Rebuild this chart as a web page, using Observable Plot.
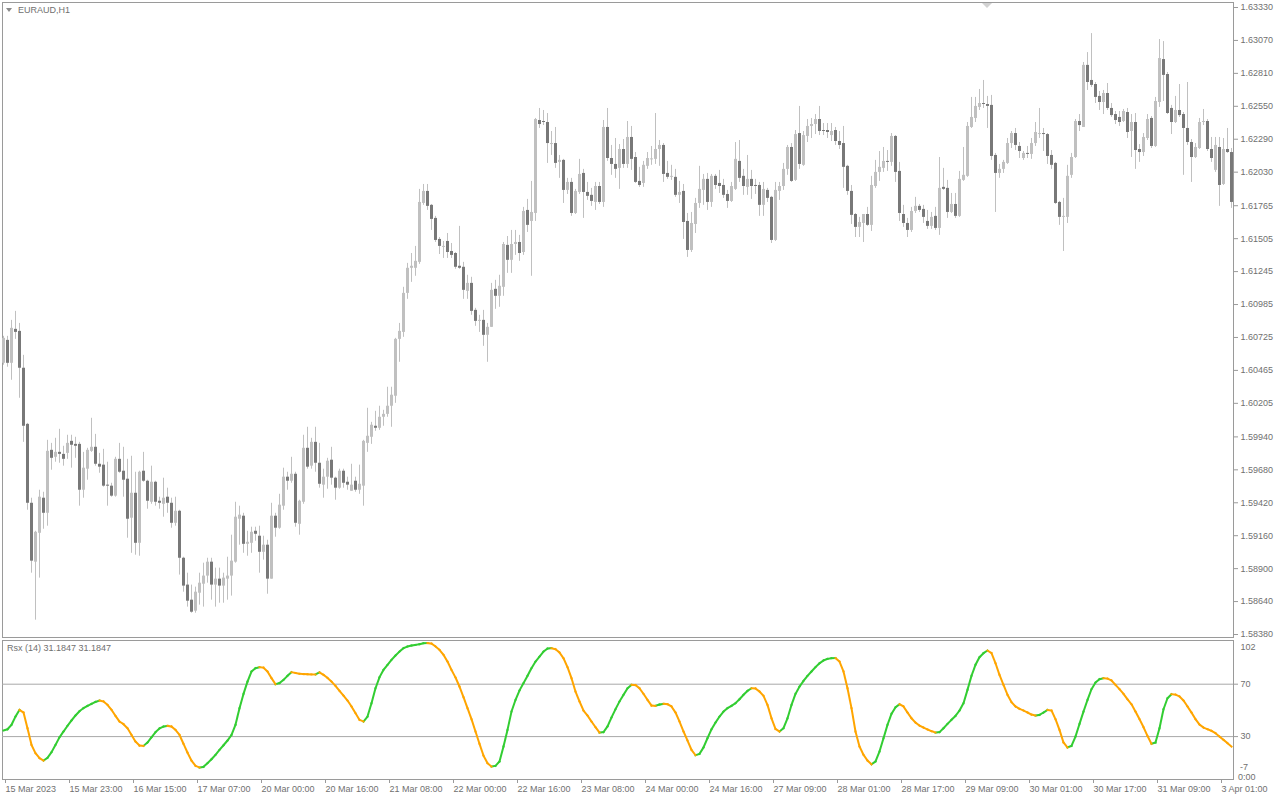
<!DOCTYPE html>
<html><head><meta charset="utf-8">
<script src="https://cdn.jsdelivr.net/npm/d3@7"></script>
<script src="https://cdn.jsdelivr.net/npm/@observablehq/plot@0.6"></script>
<style>
html,body{margin:0;padding:0;background:#fff;}
#wrap{position:relative;width:1280px;height:800px;overflow:hidden;font-family:"Liberation Sans",Arial,sans-serif;}
#main{position:absolute;left:0;top:0;}
#ind{position:absolute;left:0;top:638px;}
.lbl{position:absolute;font-size:9px;color:#707070;white-space:nowrap;line-height:10px;}
.tri{position:absolute;width:0;height:0;border-left:3px solid transparent;border-right:3px solid transparent;}
</style></head><body>
<div id="wrap">
  <div id="main"></div>
  <div id="ind"></div>
  <div class="tri" style="left:6px;top:8px;border-top:4px solid #8a8a8a"></div>
  <div class="lbl" style="left:18px;top:5px">EURAUD,H1</div>
  <div class="tri" style="left:982px;top:3px;border-left-width:5px;border-right-width:5px;border-top:5px solid #d2d2d2"></div>
  <div class="lbl" style="left:7px;top:643px">Rsx (14) 31.1847 31.1847</div>
  <div class="lbl" style="left:1240px;top:762px">-7</div>
  <div class="lbl" style="left:1238px;top:772px">0:00</div>
</div>
<script>
const open = [
1.60521,1.60702,1.60521,1.60789,1.60773,1.60482,1.60039,1.59416,1.58951,1.59179,
1.59456,1.59337,1.59834,1.59779,1.59818,1.59802,1.59810,1.59905,1.59881,1.59881,
1.59519,1.59685,1.59826,1.59858,1.59724,1.59717,1.59559,1.59551,1.59472,1.59763,
1.59669,1.59606,1.59298,1.59495,1.59100,1.59669,1.59590,1.59424,1.59582,1.59432,
1.59408,1.59464,1.59416,1.59258,1.59353,1.58982,1.58770,1.58651,1.58564,1.58706,
1.58777,1.58841,1.58951,1.58770,1.58817,1.58762,1.58817,1.58841,1.58951,1.59290,
1.59314,1.59092,1.59100,1.59195,1.59156,1.59029,1.59085,1.58817,1.59314,1.59219,
1.59393,1.59622,1.59590,1.59645,1.59250,1.59424,1.59850,1.59709,1.59897,1.59732,
1.59559,1.59622,1.59756,1.59614,1.59535,1.59669,1.59582,1.59511,1.59590,1.59519,
1.59551,1.59889,1.59937,1.60024,1.60008,1.60095,1.60118,1.60182,1.60261,1.60710,
1.60765,1.61073,1.61271,1.61271,1.61318,1.61783,1.61878,1.61768,1.61665,1.61499,
1.61436,1.61483,1.61404,1.61388,1.61287,1.61279,1.61089,1.61152,1.60939,1.60852,
1.60860,1.60742,1.60805,1.61105,1.61050,1.61121,1.61452,1.61334,1.61459,1.61475,
1.61396,1.61728,1.61641,1.61704,1.62438,1.62430,1.62422,1.62248,1.62256,1.62107,
1.62123,1.61886,1.61949,1.61704,1.61870,1.62020,1.61870,1.61847,1.61791,1.61917,
1.61791,1.62383,1.62138,1.62091,1.62060,1.62209,1.62091,1.62304,1.62146,1.61957,
1.61941,1.62076,1.62127,1.62131,1.62209,1.62241,1.62020,1.61989,1.61989,1.61847,
1.61878,1.61641,1.61412,1.61617,1.61783,1.61886,1.61973,1.61791,1.61997,1.61941,
1.61925,1.61854,1.61799,1.61894,1.62115,1.61997,1.61910,1.61973,1.61925,1.61925,
1.61768,1.61886,1.61831,1.61491,1.61878,1.61917,1.62052,1.62225,1.61965,1.62335,
1.62084,1.62312,1.62391,1.62406,1.62446,1.62359,1.62359,1.62319,1.62359,1.62272,
1.62256,1.62076,1.61878,1.61696,1.61594,1.61625,1.61696,1.61610,1.61917,1.62028,
1.62060,1.62115,1.62107,1.62312,1.62036,1.61696,1.61625,1.61570,1.61720,1.61760,
1.61736,1.61641,1.61602,1.61681,1.61586,1.61910,1.61902,1.61712,1.61775,1.61681,
1.61965,1.61997,1.62383,1.62454,1.62541,1.62572,1.62564,1.62557,1.62162,1.62020,
1.62052,1.62099,1.62256,1.62335,1.62233,1.62138,1.62178,1.62170,1.62256,1.62327,
1.62335,1.62327,1.62162,1.62099,1.61791,1.61673,1.61673,1.62005,1.62146,1.62430,
1.62383,1.62873,1.62754,1.62722,1.62628,1.62580,1.62651,1.62533,1.62485,1.62462,
1.62430,1.62501,1.62351,1.62422,1.62209,1.62185,1.62296,1.62454,1.62233,1.62580,
1.62919,1.62801,1.62533,1.62422,1.62517,1.62485,1.62375,1.62264,1.62146,1.62217,
1.62422,1.62430,1.62209,1.62044,1.62225,1.61933,1.62209,1.62185];
const high = [
1.60734,1.60734,1.60860,1.60931,1.60836,1.60584,1.60047,1.59456,1.59195,1.59519,
1.59503,1.59913,1.59889,1.59929,1.60000,1.59866,1.59953,1.59953,1.59937,1.59897,
1.59818,1.59850,1.60087,1.59960,1.59810,1.59842,1.59740,1.59574,1.59779,1.59889,
1.59858,1.59763,1.59787,1.59661,1.59669,1.59818,1.59598,1.59709,1.59590,1.59464,
1.59614,1.59535,1.59456,1.59464,1.59361,1.58990,1.58864,1.58770,1.58754,1.58864,
1.58943,1.58982,1.58982,1.58904,1.58904,1.58864,1.58990,1.59164,1.59424,1.59393,
1.59337,1.59195,1.59227,1.59227,1.59235,1.59156,1.59124,1.59416,1.59337,1.59487,
1.59693,1.59661,1.59779,1.59661,1.59440,1.59953,1.60016,1.59929,1.60016,1.59889,
1.59685,1.59771,1.59858,1.59622,1.59685,1.59685,1.59622,1.59724,1.59622,1.59717,
1.59913,1.60166,1.60055,1.60142,1.60182,1.60150,1.60332,1.60332,1.60718,1.60836,
1.61121,1.61310,1.61388,1.61444,1.61894,1.61933,1.61933,1.61775,1.61681,1.61514,
1.61483,1.61546,1.61467,1.61396,1.61602,1.61318,1.61216,1.61200,1.60955,1.60900,
1.60939,1.60836,1.61152,1.61176,1.61216,1.61475,1.61522,1.61570,1.61570,1.61531,
1.61752,1.61815,1.61957,1.62454,1.62533,1.62517,1.62493,1.62351,1.62383,1.62162,
1.62131,1.61981,1.61981,1.61894,1.62131,1.62052,1.61949,1.61902,1.61949,1.61949,
1.62438,1.62533,1.62241,1.62296,1.62248,1.62288,1.62430,1.62391,1.62185,1.62068,
1.62115,1.62185,1.62233,1.62493,1.62280,1.62256,1.62115,1.62084,1.62052,1.61957,
1.61933,1.61704,1.61712,1.61823,1.62076,1.62012,1.62020,1.62012,1.62012,1.62044,
1.61973,1.61886,1.61949,1.62264,1.62280,1.62052,1.62162,1.62044,1.61973,1.61949,
1.61949,1.61902,1.61839,1.61949,1.61949,1.62099,1.62241,1.62256,1.62359,1.62549,
1.62351,1.62446,1.62454,1.62485,1.62549,1.62414,1.62414,1.62414,1.62383,1.62351,
1.62391,1.62084,1.61925,1.61704,1.61673,1.61696,1.61752,1.61997,1.62123,1.62193,
1.62225,1.62201,1.62335,1.62319,1.62107,1.61768,1.61665,1.61752,1.61831,1.61775,
1.61768,1.61728,1.61712,1.61752,1.62146,1.62060,1.61965,1.61862,1.61862,1.62036,
1.62225,1.62422,1.62620,1.62620,1.62683,1.62754,1.62628,1.62636,1.62178,1.62091,
1.62123,1.62296,1.62351,1.62375,1.62264,1.62193,1.62233,1.62296,1.62422,1.62533,
1.62375,1.62335,1.62201,1.62107,1.61799,1.61823,1.62084,1.62178,1.62446,1.62485,
1.62896,1.62974,1.63124,1.62738,1.62667,1.62675,1.62730,1.62572,1.62509,1.62509,
1.62525,1.62533,1.62485,1.62493,1.62248,1.62335,1.62485,1.62469,1.62620,1.63077,
1.63061,1.62817,1.62557,1.62628,1.62722,1.62501,1.62738,1.62288,1.62256,1.62454,
1.62525,1.62446,1.62304,1.62304,1.62304,1.62296,1.62375,1.62217];
const low = [
1.60506,1.60490,1.60387,1.60710,1.60245,1.59897,1.59361,1.58864,1.58493,1.58825,
1.59211,1.59235,1.59677,1.59740,1.59732,1.59709,1.59763,1.59693,1.59771,1.59393,
1.59456,1.59598,1.59818,1.59709,1.59653,1.59543,1.59393,1.59464,1.59464,1.59653,
1.59464,1.59140,1.59021,1.59006,1.58998,1.59582,1.59369,1.59408,1.59393,1.59369,
1.59306,1.59337,1.59219,1.59235,1.58849,1.58714,1.58596,1.58548,1.58548,1.58612,
1.58596,1.58785,1.58651,1.58596,1.58627,1.58627,1.58651,1.58683,1.58943,1.59085,
1.59021,1.58998,1.59021,1.59116,1.58864,1.58967,1.58698,1.58817,1.59148,1.59211,
1.59361,1.59519,1.59574,1.59227,1.59164,1.59408,1.59685,1.59685,1.59661,1.59535,
1.59456,1.59527,1.59559,1.59440,1.59527,1.59535,1.59519,1.59511,1.59503,1.59487,
1.59393,1.59818,1.59881,1.59984,1.59992,1.60024,1.60095,1.60016,1.60205,1.60529,
1.60726,1.61026,1.61160,1.61208,1.61302,1.61768,1.61728,1.61570,1.61475,1.61380,
1.61349,1.61349,1.61349,1.61263,1.61263,1.61026,1.61026,1.60900,1.60813,1.60765,
1.60655,1.60529,1.60805,1.60947,1.60963,1.61050,1.61231,1.61231,1.61373,1.61326,
1.61373,1.61554,1.61208,1.61641,1.62375,1.62398,1.62099,1.62162,1.62060,1.61981,
1.61783,1.61854,1.61681,1.61696,1.61854,1.61665,1.61807,1.61760,1.61728,1.61775,
1.61752,1.62115,1.62005,1.61981,1.61894,1.62060,1.62060,1.62044,1.61941,1.61910,
1.61910,1.62052,1.62084,1.62091,1.62076,1.61949,1.61973,1.61965,1.61831,1.61783,
1.61499,1.61357,1.61396,1.61546,1.61744,1.61768,1.61728,1.61752,1.61894,1.61862,
1.61823,1.61744,1.61791,1.61886,1.61949,1.61847,1.61847,1.61815,1.61854,1.61681,
1.61681,1.61791,1.61467,1.61483,1.61807,1.61886,1.62005,1.61949,1.61957,1.62052,
1.62076,1.62264,1.62296,1.62327,1.62319,1.62319,1.62296,1.62272,1.62241,1.62209,
1.61902,1.61847,1.61617,1.61514,1.61514,1.61475,1.61602,1.61562,1.61902,1.61957,
1.62028,1.62036,1.62076,1.61949,1.61641,1.61594,1.61514,1.61554,1.61704,1.61712,
1.61625,1.61578,1.61578,1.61570,1.61531,1.61886,1.61665,1.61704,1.61665,1.61673,
1.61957,1.61989,1.62375,1.62422,1.62517,1.62533,1.62375,1.62123,1.61712,1.61981,
1.62020,1.62091,1.62217,1.62201,1.62138,1.62123,1.62138,1.62131,1.62233,1.62296,
1.62193,1.62091,1.62052,1.61775,1.61610,1.61404,1.61625,1.61981,1.62138,1.62351,
1.62383,1.62675,1.62699,1.62572,1.62517,1.62485,1.62517,1.62462,1.62406,1.62391,
1.62422,1.62296,1.62146,1.62052,1.62107,1.62154,1.62280,1.62217,1.62225,1.62541,
1.62588,1.62485,1.62327,1.62414,1.62462,1.62005,1.62241,1.61949,1.62138,1.62209,
1.62398,1.62193,1.62107,1.62028,1.61760,1.61925,1.62178,1.61744];
const close = [
1.60718,1.60521,1.60797,1.60765,1.60482,1.60024,1.59416,1.58959,1.59187,1.59464,
1.59337,1.59826,1.59771,1.59818,1.59802,1.59763,1.59889,1.59874,1.59866,1.59519,
1.59693,1.59834,1.59858,1.59724,1.59701,1.59551,1.59551,1.59472,1.59763,1.59661,
1.59598,1.59290,1.59495,1.59100,1.59661,1.59590,1.59432,1.59582,1.59424,1.59416,
1.59456,1.59416,1.59258,1.59353,1.58982,1.58762,1.58643,1.58556,1.58714,1.58785,
1.58841,1.58951,1.58770,1.58817,1.58762,1.58825,1.58841,1.58959,1.59306,1.59322,
1.59092,1.59108,1.59187,1.59171,1.59029,1.59085,1.58817,1.59314,1.59219,1.59401,
1.59622,1.59590,1.59645,1.59258,1.59432,1.59850,1.59701,1.59897,1.59732,1.59566,
1.59622,1.59748,1.59614,1.59535,1.59669,1.59574,1.59559,1.59559,1.59519,1.59566,
1.59905,1.59945,1.60032,1.60008,1.60095,1.60118,1.60182,1.60269,1.60710,1.60773,
1.61073,1.61271,1.61287,1.61326,1.61791,1.61878,1.61760,1.61657,1.61491,1.61444,
1.61444,1.61396,1.61373,1.61279,1.61271,1.61097,1.61152,1.60931,1.60852,1.60860,
1.60742,1.60805,1.61097,1.61050,1.61129,1.61459,1.61334,1.61459,1.61475,1.61388,
1.61720,1.61610,1.61712,1.62446,1.62406,1.62422,1.62256,1.62256,1.62099,1.62123,
1.61886,1.61949,1.61704,1.61878,1.62012,1.61870,1.61839,1.61799,1.61917,1.61791,
1.62383,1.62138,1.62091,1.62052,1.62209,1.62091,1.62304,1.62131,1.61949,1.61925,
1.62084,1.62138,1.62135,1.62209,1.62241,1.62012,1.61989,1.61997,1.61847,1.61870,
1.61633,1.61412,1.61625,1.61783,1.61894,1.61973,1.61791,1.61997,1.61925,1.61917,
1.61847,1.61799,1.61917,1.62131,1.61981,1.61917,1.61973,1.61917,1.61917,1.61768,
1.61894,1.61823,1.61491,1.61886,1.61917,1.62052,1.62225,1.61957,1.62327,1.62091,
1.62319,1.62391,1.62406,1.62446,1.62351,1.62351,1.62343,1.62351,1.62272,1.62241,
1.62068,1.61878,1.61689,1.61594,1.61633,1.61696,1.61610,1.61925,1.62028,1.62068,
1.62115,1.62107,1.62312,1.62028,1.61704,1.61625,1.61570,1.61720,1.61760,1.61728,
1.61673,1.61602,1.61673,1.61586,1.61902,1.61894,1.61712,1.61775,1.61681,1.61973,
1.62005,1.62391,1.62462,1.62549,1.62572,1.62564,1.62549,1.62154,1.62020,1.62052,
1.62107,1.62256,1.62335,1.62241,1.62193,1.62178,1.62170,1.62256,1.62343,1.62335,
1.62327,1.62154,1.62084,1.61783,1.61673,1.61681,1.61997,1.62146,1.62430,1.62398,
1.62873,1.62738,1.62715,1.62620,1.62580,1.62651,1.62533,1.62477,1.62438,1.62422,
1.62509,1.62343,1.62422,1.62201,1.62185,1.62304,1.62446,1.62233,1.62588,1.62927,
1.62794,1.62493,1.62422,1.62517,1.62477,1.62375,1.62264,1.62146,1.62225,1.62422,
1.62430,1.62209,1.62138,1.62241,1.61925,1.62209,1.62185,1.61791];
const rsx = [
34.6,35.6,39.0,45.3,50.4,48.4,36.4,23.7,17.3,13.5,
11.7,13.8,18.1,23.7,29.5,33.9,38.2,42.3,46.1,49.4,
51.7,53.5,55.0,56.5,57.5,56.8,54.2,50.4,45.8,41.5,
39.5,36.4,31.3,26.2,23.2,22.9,25.5,29.5,33.4,36.2,
37.7,38.2,37.7,35.1,31.3,24.5,17.8,11.7,7.7,6.4,
6.9,9.7,12.7,16.1,19.9,23.4,27.0,31.3,39.0,51.7,
62.6,72.0,79.7,82.2,83.0,82.6,79.7,74.6,70.0,70.9,
73.3,76.4,79.2,78.6,78.0,77.7,77.6,77.5,77.4,79.0,
77.1,74.8,72.0,68.7,64.9,61.3,57.5,53.0,47.9,42.8,
41.5,45.3,55.5,66.9,75.3,80.9,84.8,88.6,91.9,94.9,
97.5,98.8,99.5,100.0,100.5,101.3,101.4,101.0,98.8,96.2,
92.4,87.3,80.9,75.1,68.2,60.1,51.7,43.3,33.9,24.5,
15.5,9.7,7.1,7.7,11.0,22.4,35.1,49.1,58.0,65.2,
70.8,76.4,82.2,87.3,91.1,94.9,97.2,97.5,96.7,94.2,
89.8,83.0,74.6,64.4,56.8,49.9,46.1,41.5,37.2,33.1,
33.4,37.7,44.6,50.9,56.8,61.9,66.9,69.5,69.3,66.9,
62.6,58.0,53.7,53.5,54.5,55.0,54.7,53.0,48.4,41.5,
33.9,27.0,19.9,15.8,16.8,21.7,28.8,35.6,40.7,45.3,
49.1,51.7,53.5,55.5,58.5,61.9,64.9,66.9,66.7,64.4,
61.1,54.2,44.0,35.9,33.9,36.4,44.0,54.2,62.6,68.2,
72.5,76.4,79.7,83.0,86.0,88.1,89.3,89.8,89.9,87.3,
79.7,66.9,51.7,33.9,22.4,16.1,11.7,8.9,11.0,18.6,
28.8,39.0,47.4,52.4,54.7,53.0,48.4,44.0,40.7,38.4,
36.9,35.4,34.1,33.1,33.4,36.4,39.7,42.8,45.8,49.9,
55.5,65.7,76.4,84.8,90.6,93.7,95.7,93.7,86.0,77.1,
69.5,61.9,56.3,53.0,51.2,49.9,48.4,46.8,46.1,46.6,
48.4,50.4,49.9,43.3,35.1,25.5,21.7,22.9,30.0,39.7,
49.1,58.0,66.2,71.3,73.8,74.6,74.3,72.8,69.5,66.2,
62.6,58.5,54.7,49.1,43.3,37.2,30.5,24.5,25.5,36.4,
50.9,59.3,62.4,62.1,60.6,57.5,53.0,48.4,43.3,39.2,
36.9,35.6,34.4,32.6,30.0,27.5,25.0,22.4];

const priceTicks = [1.63330,1.63070,1.62810,1.62550,1.62290,1.62030,1.61765,1.61505,1.61245,1.60985,
  1.60725,1.60465,1.60205,1.59940,1.59680,1.59420,1.59160,1.58900,1.58640,1.58380];
const rsxLevels = [70, 30];
const rsxTopLabel = [102];
const dateTickIndex = [0,16,32,48,64,80,96,112,128,144,160,176,192,208,224,240,256,272,288,304];
const dateLabels = ["15 Mar 2023","15 Mar 23:00","16 Mar 15:00","17 Mar 07:00","20 Mar 00:00","20 Mar 16:00",
  "21 Mar 08:00","22 Mar 00:00","22 Mar 16:00","23 Mar 08:00","24 Mar 00:00","24 Mar 16:00","27 Mar 09:00",
  "28 Mar 01:00","28 Mar 17:00","29 Mar 09:00","30 Mar 01:00","30 Mar 17:00","31 Mar 09:00","3 Apr 01:00"];

const candles = open.map((o, i) => ({i, open: o, high: high[i], low: low[i], close: close[i], up: close[i] >= o}));
const segs = rsx.slice(1).map((v, k) => ({i0: k, i1: k + 1, v0: rsx[k], v1: v, up: v >= rsx[k]}));

const GRID = "#9a9a9a", TXT = "#707070", BULL = "#c0c0c0", BEAR = "#787878";
const baseStyle = {fontFamily: "'Liberation Sans', Arial, sans-serif", fontSize: "9px", color: TXT, background: "transparent", overflow: "visible"};
const N = open.length - 1;

const main = Plot.plot({
  width: 1280, height: 638, marginLeft: 2, marginRight: 47, marginTop: 2, marginBottom: 1,
  style: baseStyle,
  x: {domain: [0, N], range: [3, 3 + 4 * N], axis: null},
  y: {domain: [1.58380, 1.63330], range: [634, 7], axis: null},
  marks: [
    Plot.frame({stroke: GRID}),
    Plot.ruleX(candles, {x: "i", y1: "low", y2: "high", stroke: BULL, strokeWidth: 1}),
    Plot.ruleX(candles.filter(d => d.up), {x: "i", y1: "open", y2: "close", stroke: BULL, strokeWidth: 3}),
    Plot.ruleX(candles.filter(d => !d.up), {x: "i", y1: "open", y2: "close", stroke: BEAR, strokeWidth: 3}),
    Plot.axisY(priceTicks, {anchor: "right", tickSize: 4, tickPadding: 3, tickFormat: d => d.toFixed(5), label: null, stroke: GRID})
  ]
});
document.getElementById("main").appendChild(main);

const ind = Plot.plot({
  width: 1280, height: 162, marginLeft: 2, marginRight: 47, marginTop: 2, marginBottom: 21,
  style: baseStyle,
  x: {domain: [0, N], range: [3, 3 + 4 * N], axis: null},
  y: {domain: [30, 70], range: [98.1, 45.7], axis: null},
  marks: [
    Plot.frame({stroke: GRID}),
    Plot.ruleY(rsxLevels, {stroke: "#a8a8a8"}),
    Plot.link(segs.filter(d => d.up), {x1: "i0", y1: "v0", x2: "i1", y2: "v1", stroke: "#32cd32", strokeWidth: 2, strokeLinecap: "square"}),
    Plot.link(segs.filter(d => !d.up), {x1: "i0", y1: "v0", x2: "i1", y2: "v1", stroke: "#ffa500", strokeWidth: 2, strokeLinecap: "square"}),
    Plot.axisY(rsxLevels, {anchor: "right", tickSize: 4, tickPadding: 3, label: null, stroke: GRID}),
    Plot.axisY(rsxTopLabel, {anchor: "right", tickSize: 0, tickPadding: 7, dy: 5, label: null}),
    Plot.axisX(dateTickIndex, {anchor: "bottom", tickSize: 4, tickPadding: 2, textAnchor: "start", dx: 2,
      tickFormat: d => dateLabels[dateTickIndex.indexOf(d)], label: null, stroke: GRID})
  ]
});
document.getElementById("ind").appendChild(ind);
</script>
</body></html>
